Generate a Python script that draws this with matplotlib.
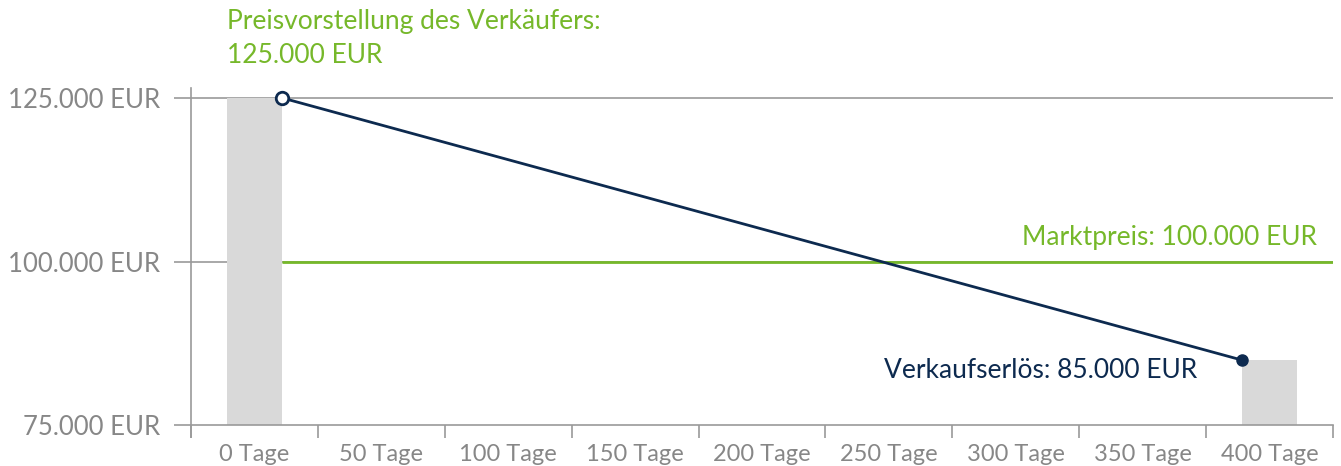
import numpy as np
import matplotlib.pyplot as plt
from matplotlib.ticker import FuncFormatter

# Daten
kategorien = ['0 Tage', '50 Tage', '100 Tage', '150 Tage', '200 Tage',
              '250 Tage', '300 Tage', '350 Tage', '400 Tage']
balken_idx = [0, 8]
balken_werte = [125000, 85000]
marktpreis = 100000
y_ticks = [75000, 100000, 125000]

gruen = '#76b82a'
navy = '#0d2a4f'
grau = '#9a9a9a'
text_grau = '#878787'
balken_grau = '#d9d9d9'

plt.rcParams['font.family'] = ['Lato', 'DejaVu Sans']

fig = plt.figure(figsize=(13.41, 4.66), dpi=100)
ax = fig.add_axes([191 / 1341, 29 / 466, 1142 / 1341, 349 / 466])

x = np.arange(len(kategorien))
bw = 0.44
basis = y_ticks[0]

# Gitterlinien
for v in y_ticks[1:]:
    ax.axhline(v, color=grau, lw=1.2, zorder=1)

# Balken (ab der x-Achse)
ax.bar(balken_idx, np.array(balken_werte) - basis, bottom=basis, width=bw,
       color=balken_grau, zorder=2)

# Marktpreis-Linie
ax.plot([balken_idx[0] + bw / 2, x[-1] + 0.5], [marktpreis, marktpreis],
        color=gruen, lw=2, zorder=3, solid_capstyle='butt')

# Preisverlauf
lx = [balken_idx[0] + bw / 2, balken_idx[1] - bw / 2]
ax.plot(lx, balken_werte, color=navy, lw=2, zorder=4)
ax.plot(lx[0], balken_werte[0], 'o', ms=9, mfc='white', mec=navy, mew=2, zorder=5)
ax.plot(lx[1], balken_werte[1], 'o', ms=8, color=navy, zorder=5)

ax.set_xlim(-0.5, len(kategorien) - 0.5)
ax.set_ylim(73244, 126527)

for s in ['top', 'right']:
    ax.spines[s].set_visible(False)
ax.spines['bottom'].set_position(('data', basis))
ax.spines['bottom'].set_color(grau)
ax.spines['left'].set_color(grau)
ax.spines['bottom'].set_linewidth(1.2)
ax.spines['left'].set_linewidth(1.2)
ax.spines['bottom'].set_zorder(3)

# x-Achse: Striche zwischen den Kategorien, Beschriftung mittig
ax.set_xticks(np.arange(-0.5, len(kategorien)), minor=False)
ax.set_xticklabels([])
ax.set_xticks(x, minor=True)
ax.set_xticklabels(kategorien, minor=True)
ax.tick_params(axis='x', which='major', direction='out', length=9, width=1.2, color=grau)
ax.tick_params(axis='x', which='minor', length=0, pad=13, labelsize=17, labelcolor=text_grau)

ax.set_yticks(y_ticks)
ax.yaxis.set_major_formatter(FuncFormatter(lambda v, p: f'{int(v):,} EUR'.replace(',', '.')))
ax.tick_params(axis='y', direction='out', length=12, width=1.2, color=grau, pad=10,
               labelsize=18.5, labelcolor=text_grau)

# Beschriftungen
fig.text(227 / 1341, 1 - 9 / 466, 'Preisvorstellung des Verkäufers:\n125.000 EUR', color=gruen,
         fontsize=19, va='top', ha='left', linespacing=1.45)
ax.text(x[-1] + 0.37, marktpreis + 1800, 'Marktpreis: 100.000 EUR', color=gruen,
        fontsize=19, ha='right', va='bottom')
ax.text(balken_idx[1] - bw / 2 - 0.35, 83400, 'Verkaufserlös: 85.000 EUR', color=navy,
        fontsize=19, ha='right', va='center')

fig.savefig('out.png', dpi=100)
